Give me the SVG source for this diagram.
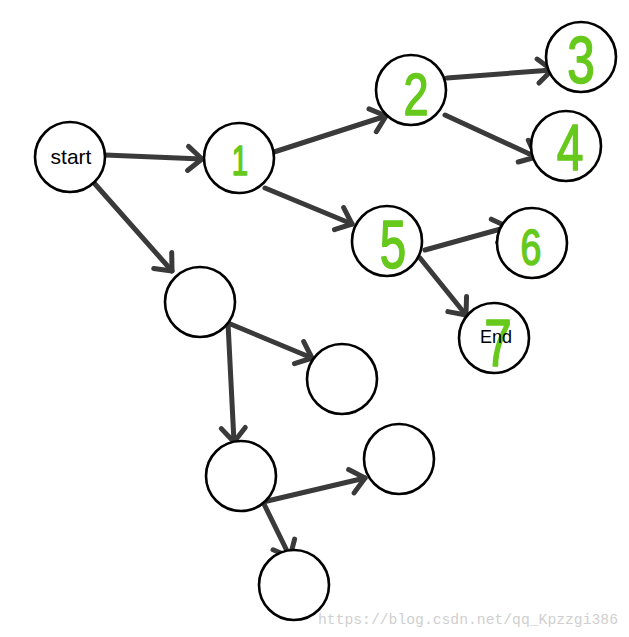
<svg xmlns="http://www.w3.org/2000/svg" width="629" height="637" viewBox="0 0 629 637">
<style>
.node{fill:#fff;stroke:#000;stroke-width:2.6}
.edge{fill:none;stroke:#3a3a3a;stroke-width:5;stroke-linecap:round}
.lbl{font-family:"Liberation Sans",Arial,sans-serif;fill:#000;text-anchor:middle}
.num{font-family:"Liberation Sans",Arial,sans-serif;fill:#66c91c;stroke:#66c91c;stroke-width:1.6;stroke-linejoin:round;text-anchor:middle}
.wm{font-family:"Liberation Mono","Courier New",monospace;fill:#cfcfcf;font-size:15px}
</style>
<defs>
<marker id="ah" markerUnits="userSpaceOnUse" markerWidth="40" markerHeight="40" refX="20" refY="20" orient="auto" overflow="visible">
<path d="M6,8 L20,20 L6,32" fill="none" stroke="#3a3a3a" stroke-width="5" stroke-linecap="round" stroke-linejoin="round"/>
</marker>
</defs>
<rect width="629" height="637" fill="#fff"/>
<g id="connectors">
<line class="edge" x1="105" y1="155" x2="202" y2="159" marker-end="url(#ah)"/>
<line class="edge" x1="274" y1="152" x2="386" y2="116" marker-end="url(#ah)"/>
<line class="edge" x1="447" y1="78" x2="552" y2="70" marker-end="url(#ah)"/>
<line class="edge" x1="445" y1="115" x2="536" y2="157" marker-end="url(#ah)"/>
<line class="edge" x1="265" y1="188" x2="352" y2="224" marker-end="url(#ah)"/>
<line class="edge" x1="425" y1="250" x2="508" y2="227" marker-end="url(#ah)"/>
<line class="edge" x1="420" y1="258" x2="466" y2="315" marker-end="url(#ah)"/>
<line class="edge" x1="95" y1="184" x2="172" y2="271" marker-end="url(#ah)"/>
<line class="edge" x1="228" y1="323" x2="312" y2="358" marker-end="url(#ah)"/>
<line class="edge" x1="228" y1="323" x2="234" y2="442" marker-end="url(#ah)"/>
<line class="edge" x1="263" y1="502" x2="365" y2="478" marker-end="url(#ah)"/>
<line class="edge" x1="263" y1="502" x2="290" y2="557" marker-end="url(#ah)"/>
</g>
<g id="n-start"><circle class="node" cx="70" cy="157" r="35"/><text class="lbl" x="71" y="164" font-size="21">start</text></g>
<g id="n1"><circle class="node" cx="239" cy="158" r="35"/><text class="num" transform="translate(240 175) scale(0.7 1)" font-size="42">1</text></g>
<g id="n2"><circle class="node" cx="411" cy="90" r="35"/><text class="num" transform="translate(416 115) scale(0.75 1)" font-size="60">2</text></g>
<g id="n3"><circle class="node" cx="581" cy="57" r="35"/><text class="num" transform="translate(581 83) scale(0.75 1)" font-size="66">3</text></g>
<g id="n4"><circle class="node" cx="566" cy="146" r="35"/><text class="num" transform="translate(570 170) scale(0.75 1)" font-size="64">4</text></g>
<g id="n5"><circle class="node" cx="387" cy="241" r="35"/><text class="num" transform="translate(393 268) scale(0.7 1)" font-size="68">5</text></g>
<g id="n6"><circle class="node" cx="532" cy="243" r="35"/><text class="num" transform="translate(531 265) scale(0.75 1)" font-size="50">6</text></g>
<g id="n-end"><circle class="node" cx="494" cy="338" r="35"/><text class="num" transform="translate(498 366) scale(0.75 1)" font-size="66">7</text><text class="lbl" x="496" y="343" font-size="18">End</text></g>
<g id="nA"><circle class="node" cx="200" cy="302" r="35"/></g>
<g id="nB"><circle class="node" cx="342" cy="379" r="35"/></g>
<g id="nC"><circle class="node" cx="241" cy="476" r="35"/></g>
<g id="nD"><circle class="node" cx="399" cy="459" r="35"/></g>
<g id="nE"><circle class="node" cx="294" cy="585" r="35"/></g>
<text class="wm" x="318" y="624" textLength="300" lengthAdjust="spacingAndGlyphs">https://blog.csdn.net/qq_Kpzzgi386</text>
</svg>
